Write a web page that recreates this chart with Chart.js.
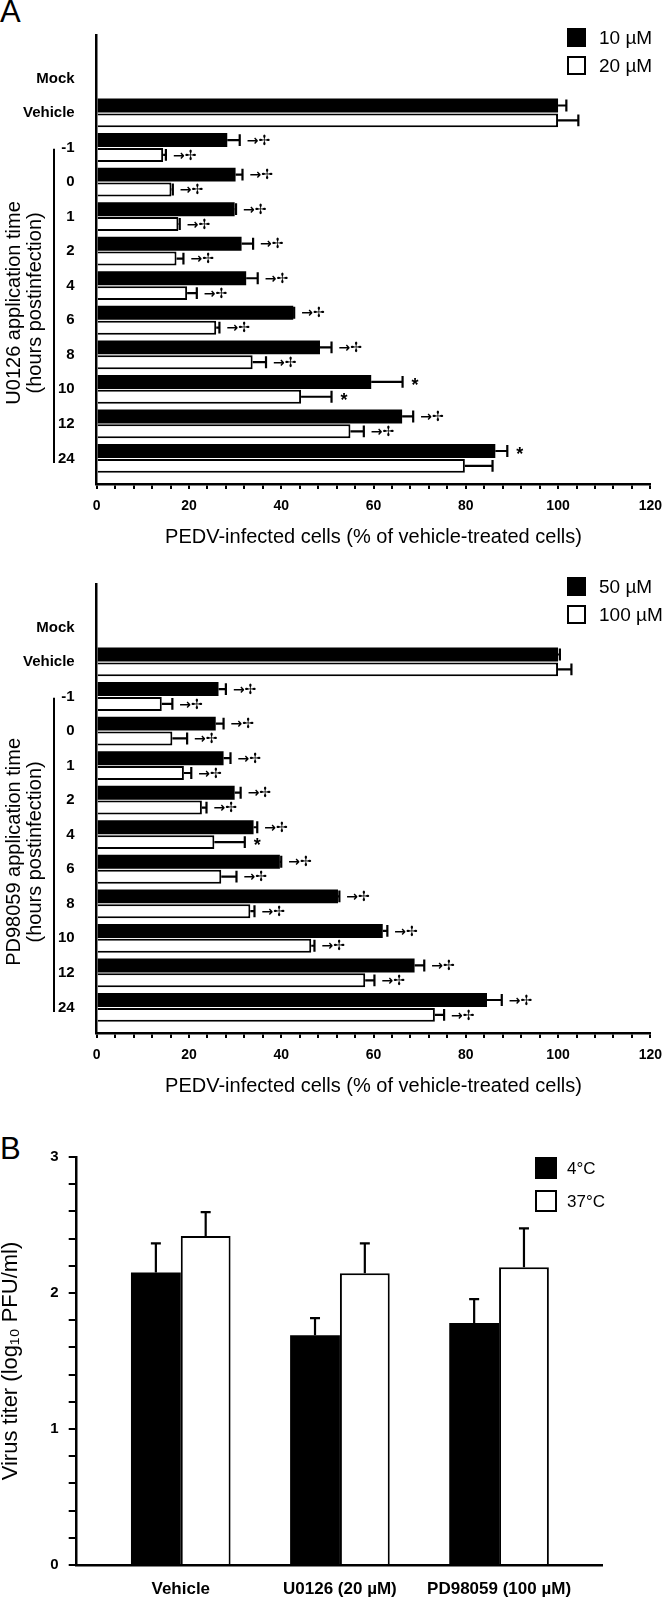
<!DOCTYPE html>
<html>
<head>
<meta charset="utf-8">
<script src="https://cdn.jsdelivr.net/npm/chart.js@4.4.1/dist/chart.umd.min.js"></script>
<style>
  html, body { margin: 0; padding: 0; background: #fff; }
  body { width: 671px; height: 1599px; position: relative; overflow: hidden; }
  canvas { position: absolute; left: 0; }
  .panel { position: absolute; left: 0; font: 31px "Liberation Sans", Arial, sans-serif; line-height: 1; color: #000; }
</style>
</head>
<body>
<div class="panel" style="top:-4px">A</div>
<canvas id="u0126" width="671" height="549" style="top:0"></canvas>
<canvas id="pd98059" width="671" height="549" style="top:549px"></canvas>
<div class="panel" style="top:1133px">B</div>
<canvas id="titer" width="671" height="499" style="top:1100px"></canvas>
<script>
// categories (application time, hours postinfection)
const categories = ['Mock', 'Vehicle', '-1', '0', '1', '2', '4', '6', '8', '10', '12', '24'];

// U0126 panel
const u0126Doses = ['10 µM', '20 µM'];
const u0126Low = [null, 100, 28.3, 30.1, 29.9, 31.4, 32.4, 42.6, 48.4, 59.5, 66.2, 86.4];
const u0126LowErr = [null, 1.8, 2.7, 1.5, 0.3, 2.5, 2.5, 0.2, 2.5, 6.8, 2.4, 2.6];
const u0126LowMarks = ['', '', '→✢', '→✢', '→✢', '→✢', '→✢', '→✢', '→✢', '*', '→✢', '*'];
const u0126High = [null, 100, 14.4, 16.2, 17.7, 17.3, 19.6, 25.9, 33.8, 44.3, 55.0, 79.8];
const u0126HighErr = [null, 4.4, 0.6, 0.3, 0.3, 1.5, 2.1, 0.7, 2.9, 6.6, 2.9, 6.0];
const u0126HighMarks = ['', '', '→✢', '→✢', '→✢', '→✢', '→✢', '→✢', '→✢', '*', '→✢', ''];

// PD98059 panel
const pdDoses = ['50 µM', '100 µM'];
const pdLow = [null, 100, 26.4, 25.8, 27.5, 29.9, 34.0, 39.7, 52.3, 62.0, 68.9, 84.6];
const pdLowErr = [null, 0.4, 1.6, 1.7, 1.5, 1.3, 0.8, 0.3, 0.3, 1.0, 2.1, 3.2];
const pdLowMarks = ['', '', '→✢', '→✢', '→✢', '→✢', '→✢', '→✢', '→✢', '→✢', '→✢', '→✢'];
const pdHigh = [null, 100, 14.1, 16.4, 18.9, 22.8, 25.5, 27.0, 33.3, 46.5, 58.2, 73.3];
const pdHighErr = [null, 2.9, 2.3, 3.2, 1.6, 1.0, 6.6, 3.3, 0.9, 0.7, 2.0, 2.0];
const pdHighMarks = ['', '', '→✢', '→✢', '→✢', '→✢', '*', '→✢', '→✢', '→✢', '→✢', '→✢'];

// panel B: virus titer
const groups = ['Vehicle', 'U0126 (20 µM)', 'PD98059 (100 µM)'];
const temps = ['4°C', '37°C'];
const titer4 = [2.15, 1.69, 1.78];
const titer4Err = [0.215, 0.125, 0.175];
const titer37 = [2.42, 2.145, 2.19];
const titer37Err = [0.175, 0.22, 0.285];

const FONT = '"Liberation Sans", Arial, sans-serif';
Chart.defaults.font.family = FONT;
Chart.defaults.color = '#000';

const isWhole = v => Math.abs(v - Math.round(v)) < 1e-6;

// error bars + significance marks
const errorBars = {
  id: 'errorBars',
  afterDatasetsDraw(chart) {
    const ctx = chart.ctx;
    const horizontal = chart.options.indexAxis === 'y';
    const vScale = horizontal ? chart.scales.x : chart.scales.y;
    ctx.save();
    ctx.strokeStyle = '#000';
    ctx.fillStyle = '#000';
    ctx.lineWidth = 2.2;
    chart.data.datasets.forEach((ds, di) => {
      const meta = chart.getDatasetMeta(di);
      meta.data.forEach((bar, j) => {
        const raw = ds.data[j];
        const idx = horizontal ? raw.y : raw.x - 1;
        const v = horizontal ? raw.x : raw.y;
        const err = ds.errors[idx] || 0;
        const end = vScale.getPixelForValue(v + err);
        ctx.beginPath();
        if (horizontal) {
          const cap = bar.height * 0.85;
          ctx.moveTo(bar.x, bar.y); ctx.lineTo(end, bar.y);
          ctx.moveTo(end, bar.y - cap / 2); ctx.lineTo(end, bar.y + cap / 2);
        } else {
          ctx.moveTo(bar.x, bar.y); ctx.lineTo(bar.x, end);
          ctx.moveTo(bar.x - 5, end); ctx.lineTo(bar.x + 5, end);
        }
        ctx.stroke();
        const mark = ds.marks ? ds.marks[idx] : '';
        if (mark) {
          ctx.textAlign = 'left';
          ctx.textBaseline = 'middle';
          if (mark === '*') {
            ctx.font = 'bold 18px ' + FONT;
            ctx.fillText(mark, Math.max(end, bar.x) + 9, bar.y + 4);
          } else {
            ctx.font = 'bold 14px "DejaVu Sans", sans-serif';
            ctx.fillText(mark, Math.max(end, bar.x) + 7, bar.y + 1);
          }
        }
      });
    });
    ctx.restore();
  }
};

function boxLegend(cfg) {
  return {
    id: 'boxLegend',
    afterDraw(chart) {
      const ctx = chart.ctx;
      ctx.save();
      chart.data.datasets.forEach((ds, i) => {
        const y = cfg.y + i * cfg.step;
        ctx.fillStyle = ds.backgroundColor;
        ctx.fillRect(cfg.x, y, cfg.size, cfg.size);
        ctx.strokeStyle = '#000';
        ctx.lineWidth = 2;
        ctx.strokeRect(cfg.x + 1, y + 1, cfg.size - 2, cfg.size - 2);
        ctx.fillStyle = '#000';
        ctx.font = cfg.font;
        ctx.textAlign = 'left';
        ctx.textBaseline = 'middle';
        ctx.fillText(ds.label, cfg.textX, y + cfg.size / 2 + 1);
      });
      ctx.restore();
    }
  };
}

// rotated two-line axis title with the bracket over the time points
function sideTitle(lines) {
  return {
    id: 'sideTitle',
    afterDraw(chart) {
      const ctx = chart.ctx;
      const ys = chart.scales.y;
      const top = ys.getPixelForValue(2.04);
      const bottom = ys.getPixelForValue(11.13);
      ctx.save();
      ctx.strokeStyle = '#000';
      ctx.lineWidth = 2;
      ctx.beginPath();
      ctx.moveTo(54, top); ctx.lineTo(54, bottom);
      ctx.stroke();
      ctx.fillStyle = '#000';
      ctx.font = '20px ' + FONT;
      ctx.textAlign = 'center';
      ctx.textBaseline = 'middle';
      const mid = (top + bottom) / 2 - 3;
      [14, 35].forEach((x, i) => {
        ctx.save();
        ctx.translate(x, mid);
        ctx.rotate(-Math.PI / 2);
        ctx.fillText(lines[i], 0, 0);
        ctx.restore();
      });
      ctx.restore();
    }
  };
}

function timeCourse(id, doses, low, lowErr, lowMarks, high, highErr, highMarks, titleLines) {
  const toPoints = arr => arr.map((v, i) => ({ x: v, y: i })).filter(p => p.x !== null);
  return new Chart(document.getElementById(id), {
    type: 'bar',
    data: {
      datasets: [
        { label: doses[0], data: toPoints(low), errors: lowErr, marks: lowMarks,
          backgroundColor: '#000', borderColor: '#000', borderWidth: 0 },
        { label: doses[1], data: toPoints(high), errors: highErr, marks: highMarks,
          backgroundColor: '#fff', borderColor: '#000', borderWidth: 2 }
      ]
    },
    options: {
      indexAxis: 'y',
      responsive: false,
      animation: false,
      devicePixelRatio: 1,
      categoryPercentage: 0.86,
      barPercentage: 0.94,
      layout: { padding: { top: 35, right: 13, bottom: 0, left: 0 } },
      plugins: { legend: { display: false }, tooltip: { enabled: false } },
      scales: {
        x: {
          type: 'linear', min: 0, max: 120,
          afterFit: s => { s.height = 65; },
          grid: { display: true, drawOnChartArea: false, drawTicks: true, tickLength: 5, color: '#000', lineWidth: 2 },
          border: { display: true, color: '#000', width: 2.5 },
          ticks: { stepSize: 4, autoSkip: false, maxRotation: 0, padding: 9,
                   font: { size: 14, weight: 'bold' },
                   callback: v => (v % 20 === 0 ? v : '') },
          title: { display: true, text: 'PEDV-infected cells (% of vehicle-treated cells)',
                   font: { size: 20 }, padding: 0 }
        },
        y: {
          type: 'linear', reverse: true, min: -1.256, max: 11.74, offset: false,
          afterFit: s => { s.width = 96.7; },
          afterBuildTicks: s => { s.ticks = s.ticks.filter(t => isWhole(t.value) && t.value >= 0 && t.value < categories.length); },
          grid: { display: false, offset: false },
          border: { display: true, color: '#000', width: 2.5 },
          ticks: { stepSize: 1, autoSkip: false, padding: 14,
                   font: { size: 15, weight: 'bold' },
                   callback: v => categories[Math.round(v)] }
        }
      }
    },
    plugins: [errorBars,
              boxLegend({ x: 567, y: 28, size: 19, step: 28, textX: 599, font: '19px ' + FONT }),
              sideTitle(titleLines)]
  });
}

timeCourse('u0126', u0126Doses, u0126Low, u0126LowErr, u0126LowMarks,
           u0126High, u0126HighErr, u0126HighMarks,
           ['U0126 application time', '(hours postinfection)']);
timeCourse('pd98059', pdDoses, pdLow, pdLowErr, pdLowMarks,
           pdHigh, pdHighErr, pdHighMarks,
           ['PD98059 application time', '(hours postinfection)']);

new Chart(document.getElementById('titer'), {
  type: 'bar',
  data: {
    datasets: [
      { label: temps[0], data: titer4.map((v, i) => ({ x: i + 1, y: v })), errors: titer4Err,
        backgroundColor: '#000', borderColor: '#000', borderWidth: 0 },
      { label: temps[1], data: titer37.map((v, i) => ({ x: i + 1, y: v })), errors: titer37Err,
        backgroundColor: '#fff', borderColor: '#000', borderWidth: 2 }
    ]
  },
  options: {
    responsive: false,
    animation: false,
    devicePixelRatio: 1,
    categoryPercentage: 0.626,
    barPercentage: 1,
    layout: { padding: { top: 57, right: 68.5, bottom: 0, left: 0 } },
    plugins: { legend: { display: false }, tooltip: { enabled: false } },
    scales: {
      x: {
        type: 'linear', min: 0.346, max: 3.65, offset: false,
        afterFit: s => { s.height = 34; },
        afterBuildTicks: s => { s.ticks = s.ticks.filter(t => isWhole(t.value) && t.value >= 1 && t.value <= groups.length); },
        grid: { display: false, offset: false },
        border: { display: true, color: '#000', width: 2.5 },
        ticks: { stepSize: 1, autoSkip: false, maxRotation: 0, padding: 6,
                 font: { size: 17, weight: 'bold' },
                 callback: v => groups[Math.round(v) - 1] }
      },
      y: {
        min: 0, max: 3,
        afterFit: s => { s.width = 76.7; },
        grid: { display: true, drawOnChartArea: false, drawTicks: true, tickLength: 8, color: '#000', lineWidth: 2 },
        border: { display: true, color: '#000', width: 2.5 },
        ticks: { stepSize: 0.2, autoSkip: false, padding: 10,
                 font: { size: 15, weight: 'bold' },
                 callback: v => (isWhole(v) ? Math.round(v) : '') },
        title: { display: true, text: 'Virus titer (log₁₀ PFU/ml)', font: { size: 22, lineHeight: 1 }, padding: 0 }
      }
    }
  },
  plugins: [errorBars,
            boxLegend({ x: 535, y: 57, size: 22, step: 33, textX: 567, font: '17px ' + FONT })]
});
</script>
</body>
</html>
